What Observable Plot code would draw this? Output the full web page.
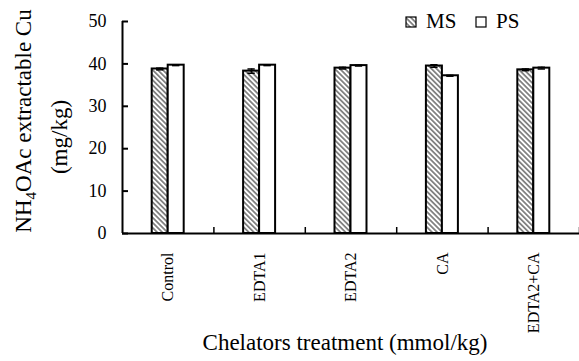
<!DOCTYPE html>
<html>
<head>
<meta charset="utf-8">
<script src="https://cdn.jsdelivr.net/npm/d3@7"></script>
<script src="https://cdn.jsdelivr.net/npm/@observablehq/plot@0.6"></script>
<style>
  html, body { margin: 0; padding: 0; background: #fff; }
  #chart { width: 579px; height: 361px; }
  #chart svg, #chart svg text { font-family: "Liberation Serif", "Times New Roman", serif !important; }
</style>
</head>
<body>
<div id="chart"></div>
<script>
const categories = ["Control", "EDTA1", "EDTA2", "CA", "EDTA2+CA"];
const series = ["MS", "PS"];
const msValues = [38.8, 38.3, 39.0, 39.5, 38.6];
const psValues = [39.7, 39.7, 39.6, 37.2, 39.0];
const msErrors = [0.2, 0.5, 0.2, 0.3, 0.2];
const psErrors = [0.1, 0.1, 0.1, 0.1, 0.2];
const yTicks = [0, 10, 20, 30, 40, 50];

const barW = 0.175; // bar width as a fraction of one category slot
const rows = [];
categories.forEach((c, i) => {
  rows.push({cat: c, i, s: "MS", v: msValues[i], e: msErrors[i], x1: i + 0.5 - barW, x2: i + 0.5});
  rows.push({cat: c, i, s: "PS", v: psValues[i], e: psErrors[i], x1: i + 0.5, x2: i + 0.5 + barW});
});
const centers = categories.map((c, i) => i + 0.5);
const bounds = d3.range(categories.length + 1);

const font = "Liberation Serif, Times New Roman, serif";

const plot = Plot.plot({
  width: 579,
  height: 361,
  marginLeft: 122,
  marginRight: 0,
  marginTop: 21,
  marginBottom: 128,
  style: {fontFamily: font, background: "white", color: "black"},
  x: {type: "linear", domain: [0, categories.length], axis: null},
  y: {domain: [0, 50], axis: null},
  marks: [
    Plot.rectY(rows.filter(d => d.s === "MS"), {x1: "x1", x2: "x2", y1: 0, y2: "v", fill: "url(#hatch)", stroke: "black", strokeWidth: 2}),
    Plot.rectY(rows.filter(d => d.s === "PS"), {x1: "x1", x2: "x2", y1: 0, y2: "v", fill: "white", stroke: "black", strokeWidth: 2}),
    Plot.ruleX(rows, {x: d => (d.x1 + d.x2) / 2, y1: d => d.v - d.e, y2: d => d.v + d.e, stroke: "black", strokeWidth: 1.5}),
    Plot.ruleY(rows, {y: d => d.v + d.e, x1: d => (d.x1 + d.x2) / 2 - 0.04, x2: d => (d.x1 + d.x2) / 2 + 0.04, stroke: "black", strokeWidth: 1.5}),
    Plot.ruleY(rows, {y: d => d.v - d.e, x1: d => (d.x1 + d.x2) / 2 - 0.04, x2: d => (d.x1 + d.x2) / 2 + 0.04, stroke: "black", strokeWidth: 1.5}),
    // axis lines
    Plot.ruleX([0], {y1: 0, y2: 50, stroke: "black", strokeWidth: 2}),
    Plot.ruleY([0], {x1: 0, x2: categories.length, stroke: "black", strokeWidth: 2}),
    // y ticks pointing inward
    Plot.ruleY(yTicks, {y: d => d, x1: 0, x2: 0, insetRight: -6, stroke: "black", strokeWidth: 2}),
    // x category boundary ticks pointing up
    Plot.ruleX(bounds.slice(1), {x: d => d, y1: 0, y2: 0, insetBottom: 6, stroke: "black", strokeWidth: 1.5}),
    Plot.axisY({ticks: yTicks, tickSize: 0, tickPadding: 16, fontSize: 18, label: null}),
    Plot.axisX({ticks: centers, tickFormat: d => categories[Math.floor(d)], tickRotate: -90, tickSize: 0, tickPadding: 19, fontSize: 16, label: null})
  ]
});

const svg = d3.select(plot);
const defs = svg.insert("defs", ":first-child");
const pat = defs.append("pattern")
  .attr("id", "hatch")
  .attr("patternUnits", "userSpaceOnUse")
  .attr("width", 3.6).attr("height", 3.6)
  .attr("patternTransform", "rotate(-45)");
pat.append("rect").attr("width", 3.6).attr("height", 3.6).attr("fill", "white");
pat.append("line").attr("x1", 0.9).attr("y1", 0).attr("x2", 0.9).attr("y2", 3.6)
  .attr("stroke", "#333").attr("stroke-width", 1.1);

// y-axis title (two lines, with subscript)
const yt = svg.append("text")
  .attr("transform", "translate(31,121) rotate(-90)")
  .attr("text-anchor", "middle")
  .attr("font-size", 23)
  .attr("fill", "black");
yt.append("tspan").text("NH");
yt.append("tspan").attr("font-size", 15).attr("dy", 5).text("4");
yt.append("tspan").attr("dy", -5).text("OAc extractable Cu");
svg.append("text")
  .attr("transform", "translate(67,137) rotate(-90)")
  .attr("text-anchor", "middle")
  .attr("font-size", 23)
  .attr("fill", "black")
  .text("(mg/kg)");

// x-axis title
svg.append("text")
  .attr("x", 345).attr("y", 350)
  .attr("text-anchor", "middle")
  .attr("font-size", 23)
  .attr("fill", "black")
  .text("Chelators treatment (mmol/kg)");

// legend
const legend = svg.append("g").attr("font-size", 21).attr("fill", "black").attr("text-anchor", "start");
const items = [{s: series[0], fill: "url(#hatch)", x: 406}, {s: series[1], fill: "white", x: 476}];
items.forEach(it => {
  legend.append("rect").attr("x", it.x).attr("y", 17).attr("width", 10).attr("height", 10)
    .attr("fill", it.fill).attr("stroke", "black").attr("stroke-width", 1.2);
  legend.append("text").attr("x", it.x + 20).attr("y", 28).attr("text-anchor", "start").text(it.s);
});

document.getElementById("chart").appendChild(plot);
</script>
</body>
</html>
